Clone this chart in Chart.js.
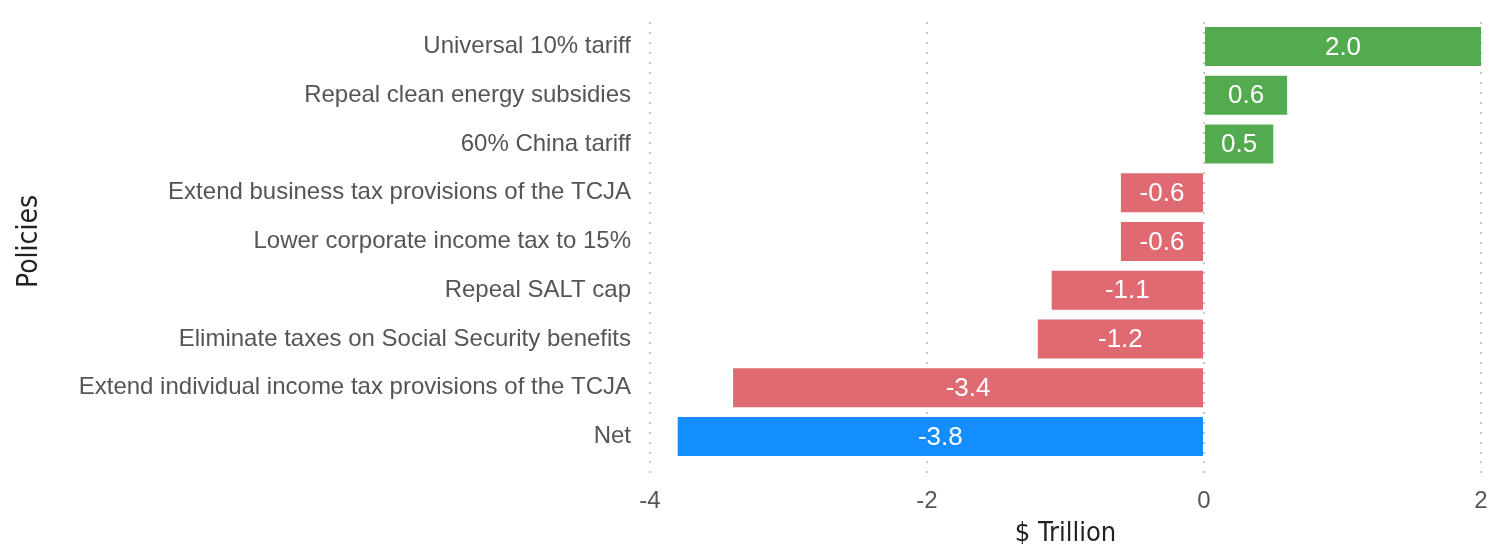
<!DOCTYPE html>
<html>
<head>
<meta charset="utf-8">
<script src="https://cdn.jsdelivr.net/npm/chart.js@4.4.1/dist/chart.umd.min.js"></script>
<style>
  html, body { margin: 0; padding: 0; background: #fff; }
  #wrap { width: 1490px; height: 544px; }
</style>
</head>
<body>
<div id="wrap"><canvas id="chart"></canvas></div>
<script>
const policies = [
  'Universal 10% tariff',
  'Repeal clean energy subsidies',
  '60% China tariff',
  'Extend business tax provisions of the TCJA',
  'Lower corporate income tax to 15%',
  'Repeal SALT cap',
  'Eliminate taxes on Social Security benefits',
  'Extend individual income tax provisions of the TCJA',
  'Net'
];
const impact = [2.0, 0.6, 0.5, -0.6, -0.6, -1.1, -1.2, -3.4, -3.8];
const xTicks = [-4, -2, 0, 2];

const GREEN = '#54aa4e';
const RED = '#df6a72';
const BLUE = '#138dff';

const barColors = impact.map((v, i) => {
  if (policies[i] === 'Net') return BLUE;
  return v >= 0 ? GREEN : RED;
});

// draws the value in the middle of each bar
const barLabels = {
  id: 'barLabels',
  afterDatasetsDraw(chart) {
    const ctx = chart.ctx;
    const meta = chart.getDatasetMeta(0);
    ctx.save();
    ctx.fillStyle = '#ffffff';
    ctx.font = '26px "Liberation Sans", Arial, sans-serif';
    ctx.textAlign = 'center';
    ctx.textBaseline = 'middle';
    meta.data.forEach((bar, i) => {
      const cx = (bar.x + bar.base) / 2;
      ctx.fillText(impact[i].toFixed(1), cx, bar.y + 1);
    });
    ctx.restore();
  }
};

new Chart(document.getElementById('chart').getContext('2d'), {
  type: 'bar',
  data: {
    labels: policies,
    datasets: [{
      data: impact,
      backgroundColor: barColors,
      borderWidth: 0,
      categoryPercentage: 1.0,
      barPercentage: 0.8
    }]
  },
  plugins: [barLabels],
  options: {
    indexAxis: 'y',
    responsive: true,
    maintainAspectRatio: false,
    animation: false,
    layout: { padding: { top: 22, right: 9, left: 0, bottom: 0 } },
    plugins: {
      legend: { display: false },
      tooltip: { enabled: false }
    },
    scales: {
      x: {
        min: -4,
        max: 2,
        afterBuildTicks: (scale) => { scale.ticks = xTicks.map(v => ({ value: v })); },
        afterFit: (scale) => {
          scale.height = 83;
          scale.paddingLeft = 0;
          scale.paddingRight = 0;
        },
        grid: {
          color: '#c8c8c8',
          lineWidth: 2,
          tickColor: '#c8c8c8',
          tickBorderDash: [2, 8],
          tickLength: 16
        },
        border: { display: false, dash: [2, 8] },
        ticks: {
          color: '#555555',
          padding: 10,
          font: { family: '"Liberation Sans", Arial, sans-serif', size: 24 }
        },
        title: {
          display: true,
          text: '$ Trillion',
          color: '#222222',
          padding: { top: 0, bottom: 0 },
          font: { family: '"DejaVu Sans Condensed", "DejaVu Sans", sans-serif', size: 27, lineHeight: 0.75 }
        }
      },
      y: {
        offset: true,
        afterFit: (scale) => {
          scale.width = 650;
          scale.paddingTop = 0;
          scale.paddingBottom = 0;
        },
        grid: { display: false, drawTicks: false },
        border: { display: false },
        ticks: {
          color: '#555555',
          padding: 19,
          font: { family: '"Liberation Sans", Arial, sans-serif', size: 24 }
        },
        title: {
          display: true,
          text: 'Policies',
          color: '#222222',
          padding: { top: 0, bottom: 0 },
          font: { family: '"DejaVu Sans Condensed", "DejaVu Sans", sans-serif', size: 28, lineHeight: 2.1 }
        }
      }
    }
  }
});
</script>
</body>
</html>
